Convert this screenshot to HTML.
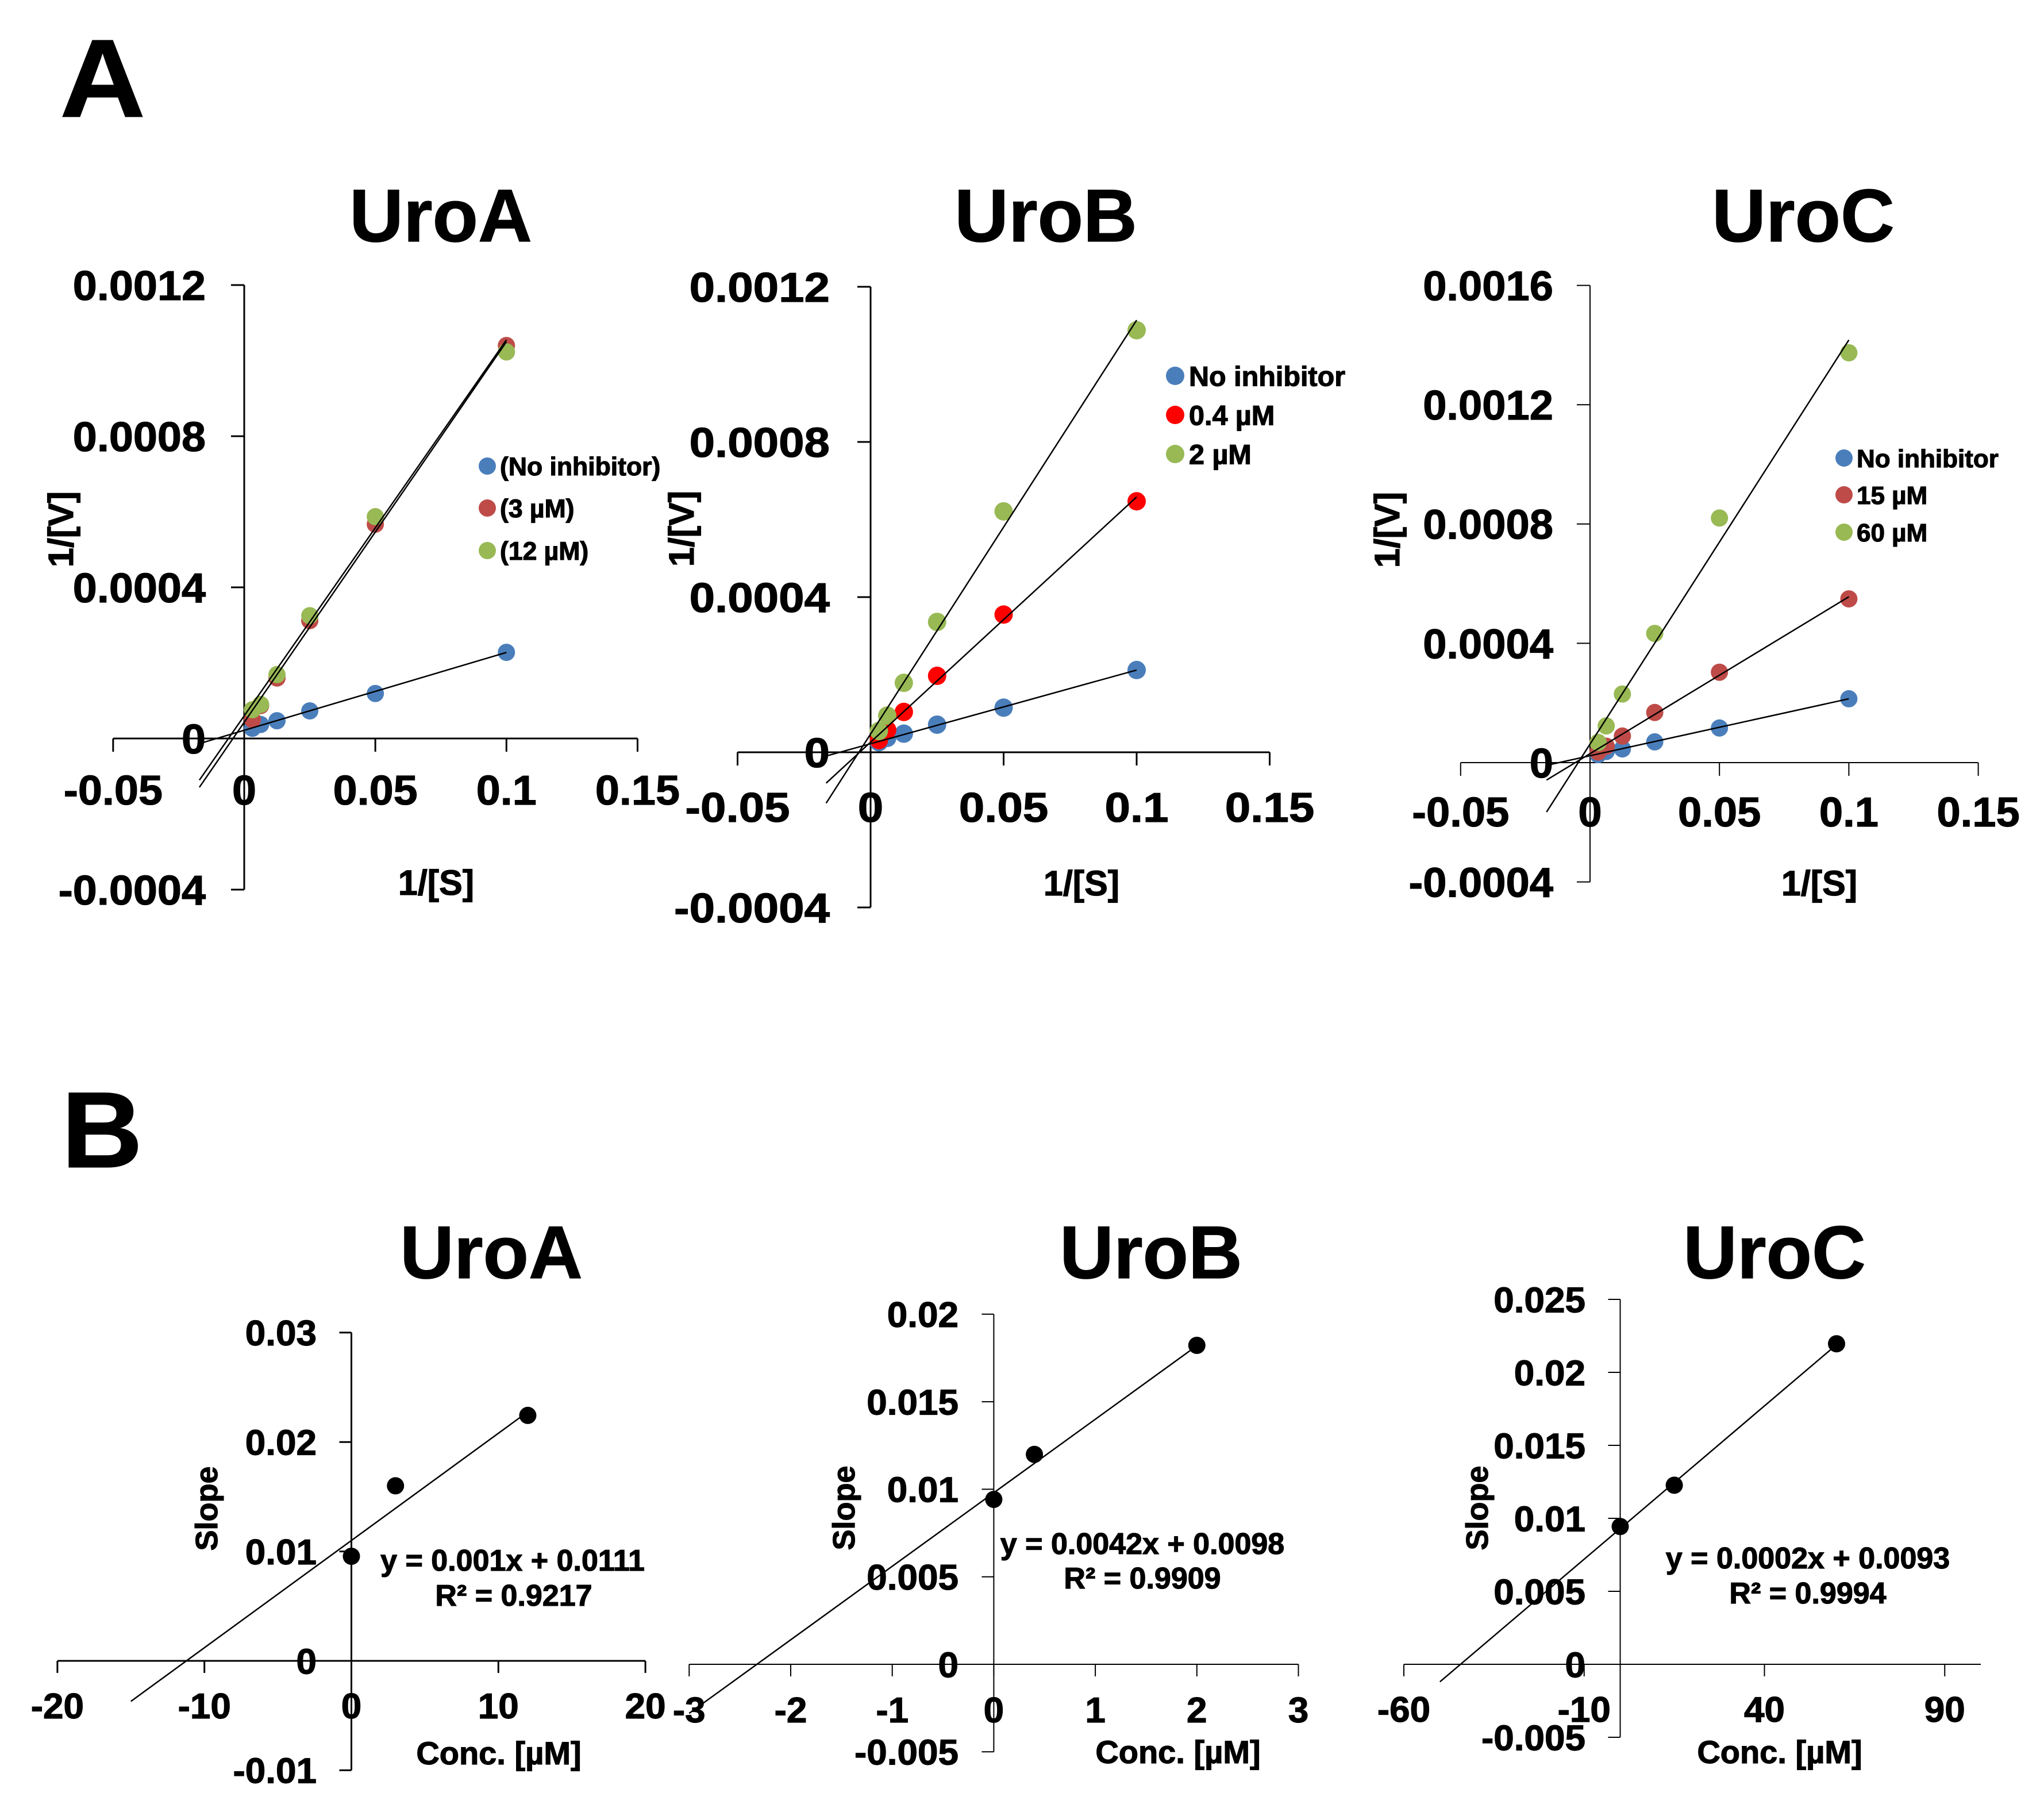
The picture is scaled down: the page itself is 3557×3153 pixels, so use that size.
<!DOCTYPE html>
<html lang="en">
<head>
<meta charset="utf-8">
<title>Lineweaver-Burk and secondary slope plots for UroA, UroB and UroC</title>
<style>
html,body{margin:0;padding:0;background:#fff;}
svg{display:block;}
text{font-family:"Liberation Sans",sans-serif;font-weight:bold;fill:#000;stroke:#000;stroke-width:1.2px;}
</style>
</head>
<body>
<svg id="figure" xmlns="http://www.w3.org/2000/svg" width="3557" height="3153" viewBox="0 0 3557 3153">
  <rect x="0" y="0" width="3557" height="3153" fill="#ffffff"/>
  <text transform="translate(104,203) scale(1.07,1)" font-size="193">A</text>
  <text transform="translate(107,2031) scale(1.04,1)" font-size="188">B</text>

  <text x="767" y="420" font-size="130" text-anchor="middle">UroA</text>
  <text x="1820" y="420" font-size="130" text-anchor="middle">UroB</text>
  <text x="3138" y="420" font-size="130" text-anchor="middle">UroC</text>
  <text x="855" y="2224" font-size="130" text-anchor="middle">UroA</text>
  <text x="2003" y="2224" font-size="130" text-anchor="middle">UroB</text>
  <text x="3088" y="2224" font-size="130" text-anchor="middle">UroC</text>

  <text transform="translate(127,921) rotate(-90)" font-size="61" text-anchor="middle">1/[V]</text>
  <text transform="translate(1207,920) rotate(-90)" font-size="61" text-anchor="middle">1/[V]</text>
  <text transform="translate(2435,922) rotate(-90)" font-size="61" text-anchor="middle">1/[V]</text>
  <text x="759" y="1557" font-size="61" text-anchor="middle">1/[S]</text>
  <text x="1882" y="1558" font-size="61" text-anchor="middle">1/[S]</text>
  <text x="3166" y="1558" font-size="61" text-anchor="middle">1/[S]</text>

  <text transform="translate(378,2625) rotate(-90)" font-size="54" text-anchor="middle">Slope</text>
  <text transform="translate(1487,2624) rotate(-90)" font-size="54" text-anchor="middle">Slope</text>
  <text transform="translate(2589,2624) rotate(-90)" font-size="54" text-anchor="middle">Slope</text>
  <text x="868" y="3070" font-size="56" text-anchor="middle">Conc. [µM]</text>
  <text x="2050" y="3068" font-size="56" text-anchor="middle">Conc. [µM]</text>
  <text x="3097" y="3068" font-size="56" text-anchor="middle">Conc. [µM]</text>

  <text x="892" y="2733" font-size="52" text-anchor="middle">y = 0.001x + 0.0111</text>
  <text x="894" y="2794" font-size="52" text-anchor="middle">R² = 0.9217</text>
  <text x="1988" y="2704" font-size="52" text-anchor="middle">y = 0.0042x + 0.0098</text>
  <text x="1988" y="2764" font-size="52" text-anchor="middle">R² = 0.9909</text>
  <text x="3146" y="2729" font-size="52" text-anchor="middle">y = 0.0002x + 0.0093</text>
  <text x="3146" y="2790" font-size="52" text-anchor="middle">R² = 0.9994</text>
</svg>

<script>
/* ---------- Shared data: panel A substrate reciprocals ---------- */
const invSubstrate = [0.1, 0.05, 0.025, 0.0125, 0.00625, 0.003125];
const panelAXTicks = [-0.05, 0, 0.05, 0.1, 0.15];
const panelAXTickLabels = ["-0.05", "0", "0.05", "0.1", "0.15"];

/* ---------- Panel A: UroA ---------- */
const uroAYTicks = [-0.0004, 0, 0.0004, 0.0008, 0.0012];
const uroAYTickLabels = ["-0.0004", "0", "0.0004", "0.0008", "0.0012"];
const uroASeriesNames = ["(No inhibitor)", "(3 µM)", "(12 µM)"];
const uroANone = [0.000228, 0.000119, 0.000073, 0.000047, 0.000037, 0.000027];
const uroA3uM = [0.00104, 0.000567, 0.000312, 0.00016, 0.000087, 0.00005];
const uroA12uM = [0.001023, 0.000587, 0.000325, 0.000169, 0.00009, 0.000076];
const uroATrendSlopes = [0.00206, 0.01007, 0.00995];
const uroATrendIntercepts = [0.0000217, 0.000043, 0.00006];

/* ---------- Panel A: UroB ---------- */
const uroBYTicks = [-0.0004, 0, 0.0004, 0.0008, 0.0012];
const uroBYTickLabels = ["-0.0004", "0", "0.0004", "0.0008", "0.0012"];
const uroBSeriesNames = ["No inhibitor", "0.4 µM", "2 µM"];
const uroBNone = [0.000212, 0.000115, 0.0000712, 0.000048, 0.000037, 0.000026];
const uroB04uM = [0.000647, 0.000355, 0.000197, 0.000104, 0.0000575, 0.0000315];
const uroB2uM = [0.001088, 0.000621, 0.000336, 0.000179, 0.0000945, 0.0000548];
const uroBTrendSlopes = [0.0019, 0.00632, 0.01067];
const uroBTrendIntercepts = [0.000022, 0.000026, 0.000047];

/* ---------- Panel A: UroC ---------- */
const uroCYTicks = [-0.0004, 0, 0.0004, 0.0008, 0.0012, 0.0016];
const uroCYTickLabels = ["-0.0004", "0", "0.0004", "0.0008", "0.0012", "0.0016"];
const uroCSeriesNames = ["No inhibitor", "15 µM", "60 µM"];
const uroCNone = [0.000214, 0.000116, 0.0000695, 0.000046, 0.0000374, 0.0000267];
const uroC15uM = [0.000549, 0.000303, 0.000168, 0.000089, 0.000055, 0.0000356];
const uroC60uM = [0.001374, 0.00082, 0.000433, 0.00023, 0.000123, 0.0000677];
const uroCTrendSlopes = [0.00191, 0.00526, 0.01355];
const uroCTrendIntercepts = [0.000023, 0.00003, 0.000062];

/* ---------- Panel B: slope replots ---------- */
const slopeAConc = [0, 3, 12];
const slopeAValues = [0.00956, 0.016, 0.02243];
const slopeAXTicks = [-20, -10, 0, 10, 20];
const slopeAXTickLabels = ["-20", "-10", "0", "10", "20"];
const slopeAYTicks = [-0.01, 0, 0.01, 0.02, 0.03];
const slopeAYTickLabels = ["-0.01", "0", "0.01", "0.02", "0.03"];
const slopeATrend = [0.00098, 0.011];

const slopeBConc = [0, 0.4, 2];
const slopeBValues = [0.00942, 0.01199, 0.01822];
const slopeBXTicks = [-3, -2, -1, 0, 1, 2, 3];
const slopeBXTickLabels = ["-3", "-2", "-1", "0", "1", "2", "3"];
const slopeBYTicks = [-0.005, 0, 0.005, 0.01, 0.015, 0.02];
const slopeBYTickLabels = ["-0.005", "0", "0.005", "0.01", "0.015", "0.02"];
const slopeBTrend = [0.0042, 0.0098];

const slopeCConc = [0, 15, 60];
const slopeCValues = [0.00944, 0.01227, 0.02196];
const slopeCXTicks = [-60, -10, 40, 90];
const slopeCXTickLabels = ["-60", "-10", "40", "90"];
const slopeCYTicks = [-0.005, 0, 0.005, 0.01, 0.015, 0.02, 0.025];
const slopeCYTickLabels = ["-0.005", "0", "0.005", "0.01", "0.015", "0.02", "0.025"];
const slopeCTrend = [0.00021, 0.0093];

/* ---------- Drawing helpers ---------- */
const SVG_NS = "http://www.w3.org/2000/svg";
const fig = document.getElementById("figure");

function addLine(x1, y1, x2, y2, w, name) {
  const el = document.createElementNS(SVG_NS, "line");
  el.setAttribute("x1", x1);
  el.setAttribute("y1", y1);
  el.setAttribute("x2", x2);
  el.setAttribute("y2", y2);
  el.setAttribute("stroke", "#000");
  el.setAttribute("stroke-width", w);
  
  
  fig.appendChild(el);
  return el;
}

function addDot(cx, cy, r, fill, name) {
  const el = document.createElementNS(SVG_NS, "circle");
  el.setAttribute("cx", cx);
  el.setAttribute("cy", cy);
  el.setAttribute("r", r);
  el.setAttribute("fill", fill);
  
  
  fig.appendChild(el);
  return el;
}

function addText(str, x, y, size, anchor, stretch, name) {
  const el = document.createElementNS(SVG_NS, "text");
  el.setAttribute("transform", "translate(" + x + "," + y + ") scale(" + stretch + ",1)");
  el.setAttribute("font-size", size);
  el.setAttribute("text-anchor", anchor);
  el.textContent = str;
  
  
  fig.appendChild(el);
  return el;
}

function drawAxes(c) {
  const X = c.xScale, Y = c.yScale;
  addLine(X(c.xMin), Y(0), X(c.xMax), Y(0), c.axisWidth, c.id + "-x-axis");
  const yLo = c.yTicks[0], yHi = c.yTicks[c.yTicks.length - 1];
  addLine(X(0), Y(yLo), X(0), Y(yHi), c.axisWidth, c.id + "-y-axis");
  c.xTicks.forEach(function (v, i) {
    addLine(X(v), Y(0), X(v), Y(0) + c.tickLen, c.axisWidth, c.id + "-x-tick");
    addText(c.xTickLabels[i], X(v), c.xLabelBaseline, c.tickSize, "middle", c.tickStretch, c.id + "-x-tick-label");
  });
  c.yTicks.forEach(function (v, i) {
    addLine(X(0) - c.tickLen, Y(v), X(0), Y(v), c.axisWidth, c.id + "-y-tick");
    addText(c.yTickLabels[i], c.yLabelRight, Y(v) + c.tickSize * 0.36, c.tickSize, "end", c.tickStretch, c.id + "-y-tick-label");
  });
}

function drawTrend(c, slope, intercept, xStart, xEnd, w, name) {
  const X = c.xScale, Y = c.yScale;
  addLine(X(xStart), Y(slope * xStart + intercept), X(xEnd), Y(slope * xEnd + intercept), w, name);
}

function drawReciprocalChart(c) {
  drawAxes(c);
  c.series.forEach(function (vals, s) {
    vals.forEach(function (v, i) {
      addDot(c.xScale(invSubstrate[i]), c.yScale(v), c.markerR, c.colors[s], c.id + "-point");
    });
  });
  c.trendSlopes.forEach(function (m, s) {
    drawTrend(c, m, c.trendIntercepts[s], c.trendStart, 0.1, 2.5, c.id + "-trendline");
  });
  c.seriesNames.forEach(function (label, s) {
    const ly = c.legendYs[s];
    addDot(c.legendMarkerX, ly, c.markerR, c.colors[s], c.id + "-legend-marker");
    addText(label, c.legendTextX, ly + c.legendSize * 0.36, c.legendSize, "start", 1, c.id + "-legend-label");
  });
}

function drawSlopeChart(c) {
  drawAxes(c);
  c.conc.forEach(function (v, i) {
    addDot(c.xScale(v), c.yScale(c.values[i]), 15, "#000", c.id + "-point");
  });
  drawTrend(c, c.trend[0], c.trend[1], c.trendStart, c.trendEnd, 2.5, c.id + "-trendline");
}

/* ---------- Charts ---------- */
const blue = "#4a7ebb", brick = "#be4b48", green = "#98b954", pure = "#ff0000";

drawReciprocalChart({
  id: "a-uroa",
  xScale: function (v) { return 425 + v * 4563; },
  yScale: function (v) { return 1285 - v * 657500; },
  xMin: -0.05, xMax: 0.15,
  xTicks: panelAXTicks, xTickLabels: panelAXTickLabels,
  yTicks: uroAYTicks, yTickLabels: uroAYTickLabels,
  axisWidth: 3, tickLen: 23, tickSize: 72, tickStretch: 1.05,
  xLabelBaseline: 1400, yLabelRight: 358,
  series: [uroANone, uroA3uM, uroA12uM],
  colors: [blue, brick, green],
  markerR: 15,
  trendSlopes: uroATrendSlopes, trendIntercepts: uroATrendIntercepts, trendStart: -0.0171,
  seriesNames: uroASeriesNames,
  legendMarkerX: 848, legendTextX: 870, legendYs: [811, 884, 958], legendSize: 44.5
});

drawReciprocalChart({
  id: "a-urob",
  xScale: function (v) { return 1515 + v * 4630; },
  yScale: function (v) { return 1309 - v * 675000; },
  xMin: -0.05, xMax: 0.15,
  xTicks: panelAXTicks, xTickLabels: panelAXTickLabels,
  yTicks: uroBYTicks, yTickLabels: uroBYTickLabels,
  axisWidth: 3, tickLen: 23, tickSize: 72, tickStretch: 1.11,
  xLabelBaseline: 1430, yLabelRight: 1444,
  series: [uroBNone, uroB04uM, uroB2uM],
  colors: [blue, pure, green],
  markerR: 16,
  trendSlopes: uroBTrendSlopes, trendIntercepts: uroBTrendIntercepts, trendStart: -0.0167,
  seriesNames: uroBSeriesNames,
  legendMarkerX: 2045, legendTextX: 2069, legendYs: [654, 722, 790], legendSize: 48.5
});

drawReciprocalChart({
  id: "a-uroc",
  xScale: function (v) { return 2767 + v * 4504; },
  yScale: function (v) { return 1327 - v * 519000; },
  xMin: -0.05, xMax: 0.15,
  xTicks: panelAXTicks, xTickLabels: panelAXTickLabels,
  yTicks: uroCYTicks, yTickLabels: uroCYTickLabels,
  axisWidth: 2, tickLen: 23, tickSize: 72, tickStretch: 1.03,
  xLabelBaseline: 1438, yLabelRight: 2703,
  series: [uroCNone, uroC15uM, uroC60uM],
  colors: [blue, brick, green],
  markerR: 15,
  trendSlopes: uroCTrendSlopes, trendIntercepts: uroCTrendIntercepts, trendStart: -0.0168,
  seriesNames: uroCSeriesNames,
  legendMarkerX: 3209, legendTextX: 3231, legendYs: [797, 861, 926], legendSize: 44
});

drawSlopeChart({
  id: "b-uroa",
  xScale: function (v) { return 611.5 + v * 25.58; },
  yScale: function (v) { return 2890 - v * 19040; },
  xMin: -20, xMax: 20,
  xTicks: slopeAXTicks, xTickLabels: slopeAXTickLabels,
  yTicks: slopeAYTicks, yTickLabels: slopeAYTickLabels,
  axisWidth: 3, tickLen: 21, tickSize: 62, tickStretch: 1.03,
  xLabelBaseline: 2990, yLabelRight: 551,
  conc: slopeAConc, values: slopeAValues,
  trend: slopeATrend, trendStart: -15, trendEnd: 12
});

drawSlopeChart({
  id: "b-urob",
  xScale: function (v) { return 1729.4 + v * 176.7; },
  yScale: function (v) { return 2896 - v * 30460; },
  xMin: -3, xMax: 3,
  xTicks: slopeBXTicks, xTickLabels: slopeBXTickLabels,
  yTicks: slopeBYTicks, yTickLabels: slopeBYTickLabels,
  axisWidth: 2, tickLen: 21, tickSize: 62, tickStretch: 1.03,
  xLabelBaseline: 2997, yLabelRight: 1668,
  conc: slopeBConc, values: slopeBValues,
  trend: slopeBTrend, trendStart: -3, trendEnd: 2
});

drawSlopeChart({
  id: "b-uroc",
  xScale: function (v) { return 2819.5 + v * 6.275; },
  yScale: function (v) { return 2896 - v * 25400; },
  xMin: -60, xMax: 100,
  xTicks: slopeCXTicks, xTickLabels: slopeCXTickLabels,
  yTicks: slopeCYTicks, yTickLabels: slopeCYTickLabels,
  axisWidth: 2, tickLen: 21, tickSize: 62, tickStretch: 1.03,
  xLabelBaseline: 2996, yLabelRight: 2759,
  conc: slopeCConc, values: slopeCValues,
  trend: slopeCTrend, trendStart: -50, trendEnd: 60
});
</script>
</body>
</html>
